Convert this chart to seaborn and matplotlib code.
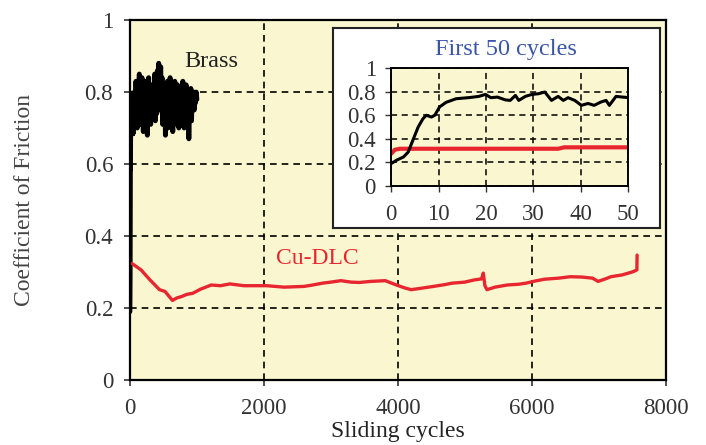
import numpy as np
import pandas as pd
import matplotlib
matplotlib.use("Agg")
import matplotlib.pyplot as plt
import seaborn as sns

# ---- data ----
# first 50 cycles (inset)
inset_cycles = [0, 1.2, 2.6, 3.6, 4.7, 5.7, 6.7, 7.4, 8.5, 9.2, 10.2, 11.6, 13.7, 16.5,
                18.5, 19.9, 21, 22.4, 24.1, 25.1, 26.2, 26.9, 28.3, 29.7, 31, 32.4, 33.8,
                35.2, 36.3, 37.3, 38.7, 40.1, 41.5, 42.8, 44.2, 45.3, 46, 47.4, 48.8, 50]
inset_brass = [0.19, 0.22, 0.246, 0.288, 0.40, 0.50, 0.57, 0.60, 0.585, 0.60, 0.67, 0.71,
               0.74, 0.75, 0.76, 0.777, 0.749, 0.754, 0.73, 0.726, 0.768, 0.726, 0.76,
               0.777, 0.782, 0.797, 0.726, 0.76, 0.726, 0.749, 0.726, 0.684, 0.70, 0.684,
               0.712, 0.726, 0.684, 0.76, 0.754, 0.75]
inset_cudlc_cycles = [0, 0.8, 1.9, 10, 20, 30, 35.2, 36.5, 40, 45, 50]
inset_cudlc = [0.274, 0.308, 0.316, 0.316, 0.316, 0.316, 0.316, 0.328, 0.328, 0.328, 0.328]

# brass, 60..1000 cycles every 10 cycles
brass_tail = [0.74, 0.80, 0.72, 0.83, 0.76, 0.70, 0.82, 0.78, 0.85, 0.73,
              0.79, 0.71, 0.84, 0.77, 0.69, 0.81, 0.75, 0.83, 0.72, 0.80,
              0.68, 0.78, 0.84, 0.74, 0.79, 0.71, 0.82, 0.76, 0.73, 0.81,
              0.77, 0.85, 0.72, 0.80, 0.74, 0.86, 0.79, 0.88, 0.75, 0.83,
              0.87, 0.76, 0.84, 0.71, 0.80, 0.73, 0.82, 0.68, 0.79, 0.75,
              0.83, 0.70, 0.78, 0.74, 0.84, 0.77, 0.72, 0.81, 0.69, 0.80,
              0.75, 0.83, 0.73, 0.79, 0.71, 0.82, 0.76, 0.70, 0.80, 0.74,
              0.81, 0.72, 0.78, 0.83, 0.75, 0.70, 0.79, 0.73, 0.82, 0.76,
              0.71, 0.80, 0.67, 0.78, 0.74, 0.81, 0.72, 0.79, 0.76, 0.80,
              0.75, 0.79, 0.77, 0.80, 0.78]
brass_tail_cycles = list(range(60, 1001, 10))

cudlc_cycles = [28, 166, 300, 442, 525, 635, 700, 773, 850, 939, 1050, 1215, 1350, 1492,
                1700, 2044, 2300, 2597, 2700, 2873, 3000, 3149, 3300, 3425, 3600, 3812,
                3978, 4100, 4199, 4350, 4530, 4700, 4807, 5000, 5138, 5250, 5276, 5300,
                5331, 5450, 5635, 5800, 5912, 6050, 6188, 6400, 6575, 6750, 6906, 6989,
                7100, 7182, 7350, 7514, 7569, 7572]
cudlc_cof = [0.324, 0.306, 0.278, 0.251, 0.246, 0.221, 0.228, 0.232, 0.238, 0.241, 0.252,
             0.264, 0.262, 0.267, 0.262, 0.262, 0.258, 0.260, 0.263, 0.269, 0.272, 0.276,
             0.272, 0.271, 0.274, 0.276, 0.264, 0.256, 0.251, 0.255, 0.260, 0.265, 0.269,
             0.272, 0.278, 0.281, 0.297, 0.262, 0.251, 0.258, 0.264, 0.266, 0.269, 0.275,
             0.280, 0.283, 0.287, 0.286, 0.283, 0.274, 0.281, 0.287, 0.292, 0.301, 0.306,
             0.347]

main_xticks = [0, 2000, 4000, 6000, 8000]
yticks = [0, 0.2, 0.4, 0.6, 0.8, 1]
ytick_labels = ["0", "0.2", "0.4", "0.6", "0.8", "1"]
inset_xticks = [0, 10, 20, 30, 40, 50]

brass = pd.DataFrame({"cycles": inset_cycles + brass_tail_cycles,
                      "cof": inset_brass + brass_tail})
cudlc = pd.DataFrame({"cycles": cudlc_cycles, "cof": cudlc_cof})
brass50 = pd.DataFrame({"cycles": inset_cycles, "cof": inset_brass})
cudlc50 = pd.DataFrame({"cycles": inset_cudlc_cycles, "cof": inset_cudlc})

# ---- style ----
sns.set_style("ticks")
plt.rcParams["font.family"] = ["Liberation Serif", "DejaVu Serif"]
bg = "#faf7d0"
red = "#e8262f"
tick_col = "#333333"
fs = 16.5

fig = plt.figure(figsize=(7.06, 4.45), dpi=100)
ax = fig.add_axes([0.184, 0.146, 0.759, 0.809])
ax.set_facecolor(bg)

sns.lineplot(data=brass, x="cycles", y="cof", ax=ax, color="black", lw=3.5,
             sort=False, estimator=None)
sns.lineplot(data=cudlc, x="cycles", y="cof", ax=ax, color=red, lw=2.4,
             sort=False, estimator=None)

ax.set_xlim(0, 8000)
ax.set_ylim(0, 1)
ax.set_xticks(main_xticks)
ax.set_yticks(yticks)
ax.set_yticklabels(ytick_labels)
ax.tick_params(labelsize=fs, colors=tick_col, length=4, width=1.2)
ax.tick_params(axis="y", pad=8)
ax.tick_params(axis="x", pad=9)
ax.grid(True, color="black", linestyle=(0, (4, 3)), lw=1.2)
for s in ax.spines.values():
    s.set_color("black")
    s.set_linewidth(1.6)
ax.set_xlabel("Sliding cycles", fontsize=17, color="#222222")
ax.set_ylabel("Coefficient of Friction", fontsize=17, color="#444444")
ax.xaxis.set_label_coords(0.5, -0.115)
ax.yaxis.set_label_coords(-0.177, 0.5)

ax.text(1220, 0.885, "Brass", fontsize=17.5, color="#222222", ha="center", va="center")
ax.text(2800, 0.337, "Cu-DLC", fontsize=17, color=red, ha="center", va="center")

# inset: white frame with a small chart inside
box = fig.add_axes([0.472, 0.488, 0.463, 0.449])
box.set_facecolor("white")
box.set_xticks([])
box.set_yticks([])
for s in box.spines.values():
    s.set_color("#222222")
    s.set_linewidth(1.5)
box.text(0.529, 0.893, "First 50 cycles", transform=box.transAxes, fontsize=17.5,
         color="#3a55a8", ha="center", va="center")

ins = fig.add_axes([0.554, 0.582, 0.336, 0.265])
ins.set_facecolor(bg)
sns.lineplot(data=cudlc50, x="cycles", y="cof", ax=ins, color=red, lw=3.0,
             sort=False, estimator=None)
sns.lineplot(data=brass50, x="cycles", y="cof", ax=ins, color="black", lw=2.2,
             sort=False, estimator=None)
ins.set_xlim(0, 50)
ins.set_ylim(0, 1)
ins.set_xticks(inset_xticks)
ins.set_yticks(yticks)
ins.set_yticklabels(ytick_labels)
ins.tick_params(labelsize=fs, colors=tick_col, length=4, width=1.0)
ins.tick_params(axis="y", pad=7)
ins.tick_params(axis="x", pad=9)
ins.grid(True, color="black", linestyle=(0, (4, 3)), lw=1.1)
for s in ins.spines.values():
    s.set_color("black")
    s.set_linewidth(1.4)
ins.set_xlabel("")
ins.set_ylabel("")

fig.savefig("out.png", dpi=100)
